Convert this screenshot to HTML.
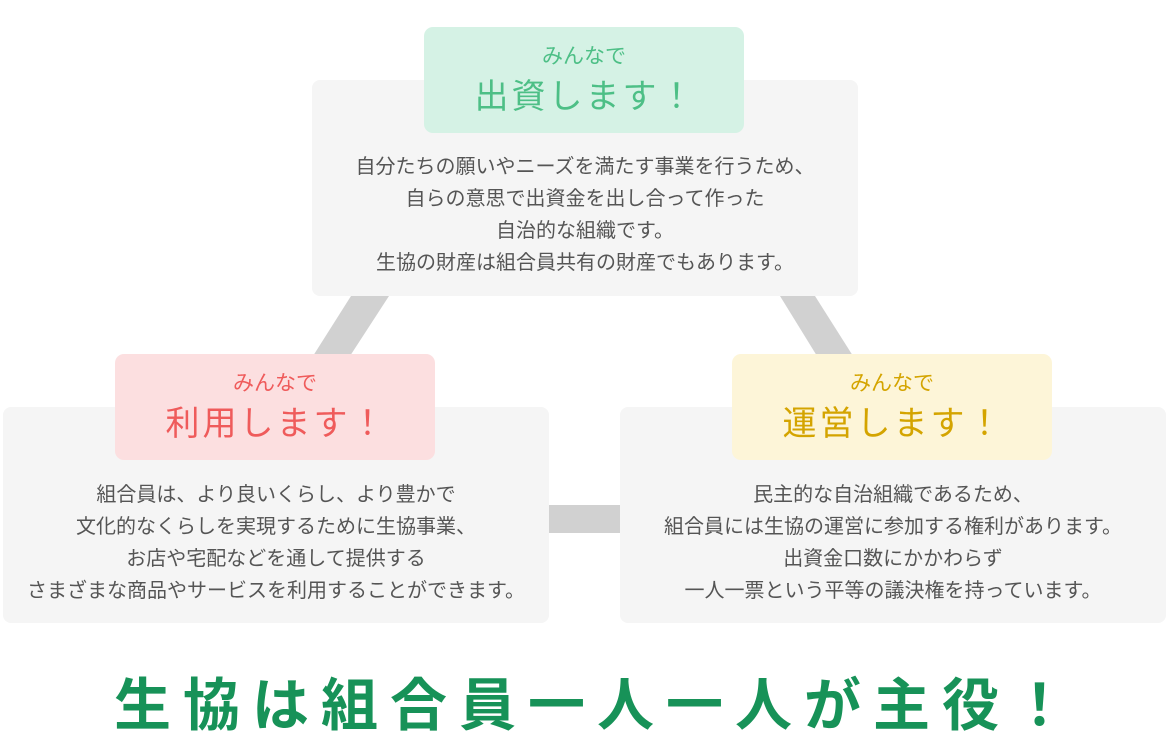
<!DOCTYPE html>
<html><head><meta charset="utf-8"><style>
body{margin:0;width:1170px;height:750px;background:#fff;position:relative;overflow:hidden;font-family:"Liberation Sans","Noto Sans CJK JP",sans-serif}
.g{position:absolute;background:#f5f5f5;border-radius:8px;width:546px;height:216px}
.t{position:absolute;left:0;width:100%;text-align:center;color:#555;font-size:20px;line-height:32px}
.l{position:absolute;width:320px;height:106px;border-radius:9px;text-align:center}
.l .a{font-size:21px;margin-top:16px;line-height:28px}
.l .b{font-size:34px;letter-spacing:3px;line-height:44px;margin-left:3px;margin-top:4px}
.h{position:absolute;left:12px;top:670px;width:1170px;text-align:center;font-size:57px;font-weight:bold;color:#179258;letter-spacing:12px;line-height:72px}
</style></head><body>
<svg width="1170" height="750" style="position:absolute;left:0;top:0">
<polygon points="351,296 389,296 350,356 313,356" fill="#d1d1d1"/>
<polygon points="780,296 815,296 853,356 817,356" fill="#d1d1d1"/>
<rect x="545" y="505" width="80" height="28" fill="#d1d1d1"/>
</svg>
<div class="g" style="left:312px;top:80px"><div class="t" style="top:71px">自分たちの願いやニーズを満たす事業を行うため、<br>自らの意思で出資金を出し合って作った<br>自治的な組織です。<br>生協の財産は組合員共有の財産でもあります。</div></div>
<div class="g" style="left:3px;top:407px"><div class="t" style="top:72px">組合員は、より良いくらし、より豊かで<br>文化的なくらしを実現するために生協事業、<br>お店や宅配などを通して提供する<br>さまざまな商品やサービスを利用することができます。</div></div>
<div class="g" style="left:620px;top:407px"><div class="t" style="top:72px">民主的な自治組織であるため、<br>組合員には生協の運営に参加する権利があります。<br>出資金口数にかかわらず<br>一人一票という平等の議決権を持っています。</div></div>
<div class="l" style="left:424px;top:27px;background:#d5f2e5;color:#4dbf86"><div class="a">みんなで</div><div class="b">出資します！</div></div>
<div class="l" style="left:115px;top:354px;background:#fcdfe0;color:#ef5b5b"><div class="a">みんなで</div><div class="b">利用します！</div></div>
<div class="l" style="left:732px;top:354px;background:#fdf5d8;color:#d4a400"><div class="a">みんなで</div><div class="b">運営します！</div></div>
<div class="h">生協は組合員一人一人が主役！</div>
</body></html>
